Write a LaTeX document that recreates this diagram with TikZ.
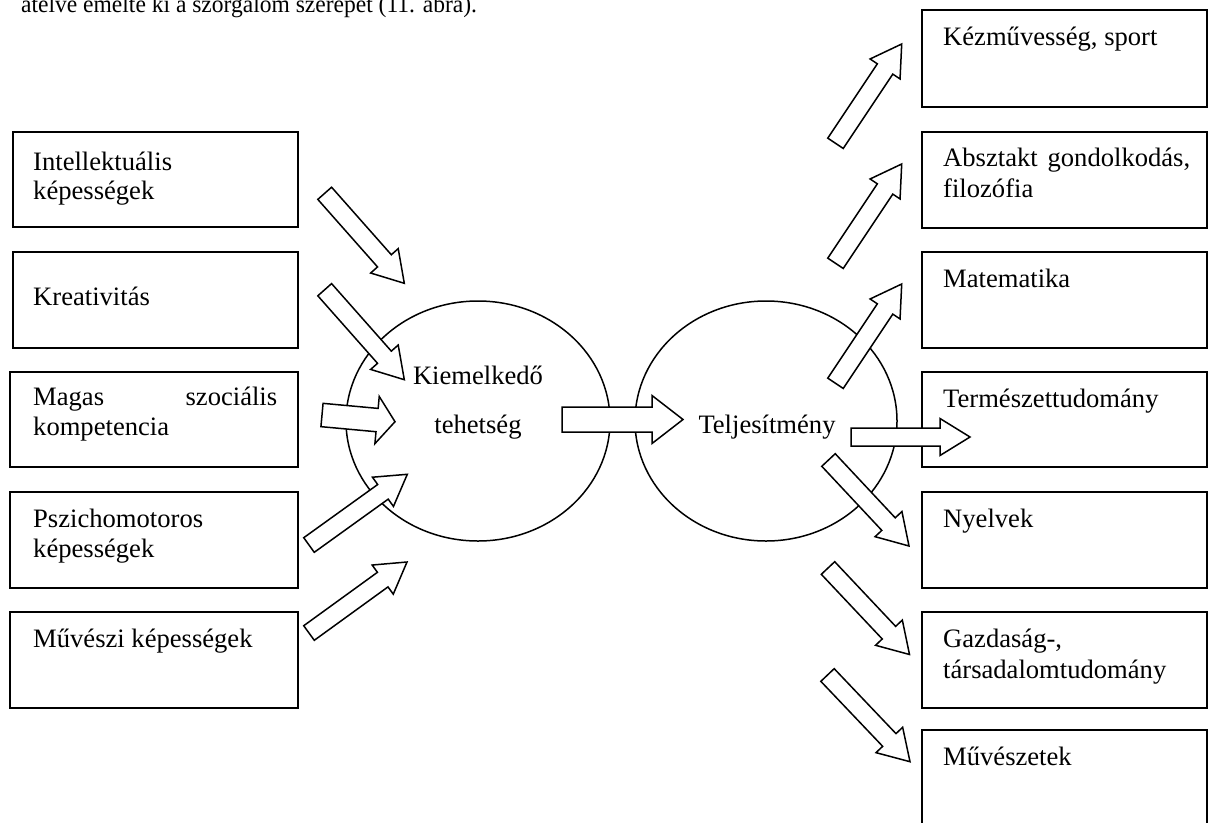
\documentclass[tikz,border=0pt]{standalone}
\usepackage{fontspec}
\usepackage{graphicx}
\setmainfont{Liberation Serif}
\usetikzlibrary{calc,shapes.geometric}
\tikzset{
  box/.style={draw, line width=1.8pt, inner sep=0pt, outer sep=0pt, anchor=north west},
  ell/.style={draw, ellipse, line width=1.5pt, inner sep=0pt, outer sep=0pt},
  txt/.style={anchor=base west, inner sep=0pt, font=\fontsize{26.6}{30}\selectfont},
  ctxt/.style={anchor=base, inner sep=0pt, font=\fontsize{26.6}{30}\selectfont},
  toptxt/.style={anchor=base west, inner sep=0pt, font=\fontsize{24.5}{28}\selectfont},
  arr/.style={draw, fill=white, line width=1.5pt, line join=miter},
}
% block arrow: tail, tip, half shaft width, half head width, head length
\newcommand{\blockarr}[5]{%
  \coordinate (hb) at ($(#2)!#5!(#1)$);
  \draw[arr] ($(#1)!#3!90:(#2)$) -- ($(hb)!#3!90:(#2)$) -- ($(hb)!#4!90:(#2)$)
    -- (#2) -- ($(hb)!#4!-90:(#2)$) -- ($(hb)!#3!-90:(#2)$) -- ($(#1)!#3!-90:(#2)$) -- cycle;
}
\begin{document}
\begin{tikzpicture}[x=1pt,y=-1pt]
\useasboundingbox (0,0) rectangle (1209,822);
\clip (0,0) rectangle (1209,822);
\fill[white] (0,0) rectangle (1209,822);

% top text (cut off by the page edge)
\node[toptxt] (top) at (21,12.5) {\scalebox{0.96}[1]{átélve emelte ki a szorgalom szerepét (11. ábra).}};

% left boxes
\node[box, minimum width=285pt, minimum height=95pt] (L1) at (13,132) {};
\node[box, minimum width=285pt, minimum height=96pt] (L2) at (13,252) {};
\node[box, minimum width=288pt, minimum height=95pt] (L3) at (10,372) {};
\node[box, minimum width=288pt, minimum height=96pt] (L4) at (10,492) {};
\node[box, minimum width=288pt, minimum height=96pt] (L5) at (10,612) {};

\node[txt] (t1a) at (33,170) {Intellektuális};
\node[txt] (t1b) at (33,199) {képességek};
\node[txt] (t2) at (33,305) {Kreativitás};
\node[txt] (t3a) at (33,405) {\hbox to 244pt{Magas\hfill szociális}};
\node[txt] (t3b) at (33,435) {kompetencia};
\node[txt] (t4a) at (33,527) {Pszichomotoros};
\node[txt] (t4b) at (33,557) {képességek};
\node[txt] (t5) at (33,647) {Művészi képességek};

% right boxes
\node[box, minimum width=285pt, minimum height=97pt] (R1) at (922,10) {};
\node[box, minimum width=285pt, minimum height=96pt] (R2) at (922,132) {};
\node[box, minimum width=285pt, minimum height=96pt] (R3) at (922,252) {};
\node[box, minimum width=285pt, minimum height=95pt] (R4) at (922,372) {};
\node[box, minimum width=285pt, minimum height=96pt] (R5) at (922,492) {};
\node[box, minimum width=285pt, minimum height=96pt] (R6) at (922,612) {};
\node[box, minimum width=285pt, minimum height=96pt] (R7) at (922,730) {};

\node[txt] (r1) at (943,45) {Kézművesség, sport};
\node[txt] (r2a) at (943,166.5) {\hbox to 247pt{Absztakt\hfill gondolkodás,}};
\node[txt] (r2b) at (943,197) {filozófia};
\node[txt] (r3) at (943,287) {Matematika};
\node[txt] (r4) at (943,407) {Természettudomány};
\node[txt] (r5) at (943,527) {Nyelvek};
\node[txt] (r6a) at (943,647) {Gazdaság-,};
\node[txt] (r6b) at (943,678) {társadalomtudomány};
\node[txt] (r7) at (943,765) {Művészetek};

% ellipses
\node[ell, minimum width=264pt, minimum height=240pt] (E1) at (478,421) {};
\node[ell, minimum width=262pt, minimum height=240pt] (E2) at (766,421) {};
\node[ctxt] (e1a) at (478,384) {Kiemelkedő};
\node[ctxt] (e1b) at (478,433) {tehetség};
\node[ctxt] (e2) at (767,433) {Teljesítmény};

% arrow end points
\coordinate (a1s) at (324.7,193.3); \coordinate (a1e) at (404.3,283.3);
\coordinate (a2s) at (324.7,289.7); \coordinate (a2e) at (404.3,379.7);
\coordinate (a3s) at (322,415);     \coordinate (a3e) at (395,421.7);
\coordinate (a4s) at (309,545);     \coordinate (a4e) at (407.3,474.3);
\coordinate (a5s) at (309,633);     \coordinate (a5e) at (407,562);
\coordinate (ms)  at (562,419.5);   \coordinate (me)  at (683,419.5);
\coordinate (b1s) at (835.5,143.3); \coordinate (b1e) at (901.7,44);
\coordinate (b2s) at (835.5,263.3); \coordinate (b2e) at (901.7,164);
\coordinate (b3s) at (835.5,383.3); \coordinate (b3e) at (901.7,284);
\coordinate (b4s) at (851,437);     \coordinate (b4e) at (970,437);
\coordinate (b5s) at (828.5,460);   \coordinate (b5e) at (909,546);
\coordinate (b6s) at (828,568);     \coordinate (b6e) at (909.5,654.5);
\coordinate (b7s) at (827.5,675);   \coordinate (b7e) at (910,761.7);

\blockarr{a1s}{a1e}{9.2pt}{18.4pt}{30pt}
\blockarr{a2s}{a2e}{9.2pt}{18.4pt}{30pt}
\blockarr{a3s}{a3e}{11.7pt}{23.7pt}{18pt}
\blockarr{a4s}{a4e}{9pt}{18pt}{30pt}
\blockarr{a5s}{a5e}{9pt}{18pt}{30pt}
\blockarr{ms}{me}{12.5pt}{24pt}{31pt}
\blockarr{b1s}{b1e}{9.3pt}{18pt}{30pt}
\blockarr{b2s}{b2e}{9.3pt}{18pt}{30pt}
\blockarr{b3s}{b3e}{9.3pt}{18pt}{30pt}
\blockarr{b4s}{b4e}{9pt}{18.5pt}{30pt}
\blockarr{b5s}{b5e}{9.2pt}{18.4pt}{30pt}
\blockarr{b6s}{b6e}{9.2pt}{18.4pt}{30pt}
\blockarr{b7s}{b7e}{9.2pt}{18.4pt}{30pt}
\end{tikzpicture}
\end{document}
